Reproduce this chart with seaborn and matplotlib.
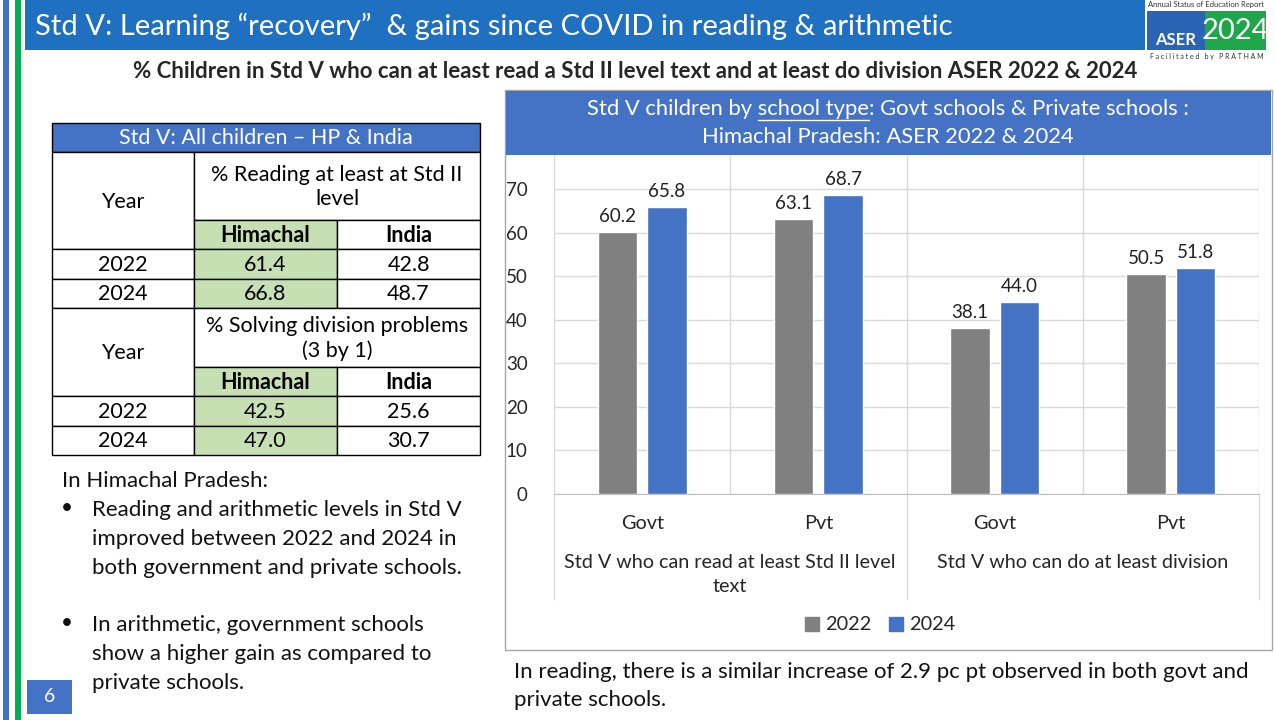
import numpy as np
import pandas as pd
import matplotlib.pyplot as plt
from matplotlib.patches import Rectangle, Patch
import seaborn as sns

# chart data
categories = ['Govt', 'Pvt', 'Govt', 'Pvt']
group_of = [0, 0, 1, 1]
groups = ['Std V who can read at least Std II level\ntext', 'Std V who can do at least division']
years = ['2022', '2024']
vals_2022 = [60.2, 63.1, 38.1, 50.5]
vals_2024 = [65.8, 68.7, 44.0, 51.8]
yticks = [0, 10, 20, 30, 40, 50, 60, 70]

# table data
table_years = ['2022', '2024']
read_hp = ['61.4', '66.8']
read_india = ['42.8', '48.7']
div_hp = ['42.5', '47.0']
div_india = ['25.6', '30.7']

colors = {'2022': '#808080', '2024': '#4472C4'}
BLUE = '#4472C4'
HEAD = '#1F70C1'
GREEN_CELL = '#C6E0B4'

sns.set_style('white')
plt.rcParams['font.family'] = ['Lato', 'DejaVu Sans']

fig = plt.figure(figsize=(12.75, 7.2), dpi=100)
bg = fig.add_axes([0, 0, 1, 1])
bg.set_xlim(0, 1275)
bg.set_ylim(720, 0)
bg.axis('off')

def rect(x0, y0, x1, y1, fc, ec='none', lw=0, z=1):
    bg.add_patch(Rectangle((x0, y0), x1 - x0, y1 - y0, fc=fc, ec=ec, lw=lw, zorder=z))

# side strips + header
rect(3, 0, 9, 720, BLUE)
rect(15, 0, 21, 720, '#00B050')
rect(25, 0, 1145, 50, HEAD)
bg.text(35, 26, 'Std V: Learning \u201crecovery\u201d  & gains since COVID in reading & arithmetic',
        color='white', fontsize=21, va='center', ha='left', zorder=3)

# logo
bg.text(1148, 5, 'Annual Status of Education Report', fontsize=5.5, va='center', ha='left', color='#333')
rect(1147, 11, 1205, 50, '#2B63B5', z=2)
rect(1205, 11, 1266, 50, '#1FA64A', z=2)
bg.text(1176, 40, 'ASER', color='white', fontsize=12, fontweight='bold', ha='center', va='center', zorder=3)
bg.text(1235, 31, '2024', color='white', fontsize=21, ha='center', va='center', zorder=3)
bg.text(1150, 57, 'F a c i l i t a t e d   b y   P R A T H A M', fontsize=5, va='center', ha='left', color='#333')

# subtitle
bg.text(635, 72, '% Children in Std V who can at least read a Std II level text and at least do division ASER 2022 & 2024',
        fontsize=16, fontweight='bold', ha='center', va='center')

# table
def cell(x0, y0, x1, y1, text, fc='white', bold=False, color='black', fs=15.5):
    rect(x0, y0, x1, y1, fc, ec='black', lw=1, z=2)
    bg.text((x0 + x1) / 2, (y0 + y1) / 2 + 1, text, ha='center', va='center', fontsize=fs,
            fontweight='bold' if bold else 'normal', color=color, zorder=3, linespacing=1.3)

c0, c1, c2, c3 = 52, 194, 337, 480
cell(c0, 123, c3, 152, 'Std V: All children \u2013 HP & India', fc=BLUE, color='white')
blocks = [(152, 68, '% Reading at least at Std II\nlevel', read_hp, read_india),
          (308, 59, '% Solving division problems\n(3 by 1)', div_hp, div_india)]
for top, lab_h, label, hp, ind in blocks:
    sub = top + lab_h
    cell(c0, top, c1, sub + 29, 'Year')
    cell(c1, top, c3, sub, label)
    cell(c1, sub, c2, sub + 29, 'Himachal', fc=GREEN_CELL, bold=True)
    cell(c2, sub, c3, sub + 29, 'India', bold=True)
    y = sub + 29
    for yr, a, b in zip(table_years, hp, ind):
        cell(c0, y, c1, y + 29.5, yr)
        cell(c1, y, c2, y + 29.5, a, fc=GREEN_CELL)
        cell(c2, y, c3, y + 29.5, b)
        y += 29.5

# left notes
notes = [(62, 481, 'In Himachal Pradesh:', False),
         (92, 510, 'Reading and arithmetic levels in Std V', True),
         (92, 539, 'improved between 2022 and 2024 in', False),
         (92, 568, 'both government and private schools.', False),
         (92, 625, 'In arithmetic, government schools', True),
         (92, 654, 'show a higher gain as compared to', False),
         (92, 683, 'private schools.', False)]
for x, y, t, bullet in notes:
    bg.text(x, y, t, fontsize=16, va='center', ha='left', color='#111')
    if bullet:
        bg.text(61, y - 2, '\u2022', fontsize=15, va='center', ha='left', color='#111')

# page number
rect(27, 680, 72, 714, BLUE)
bg.text(49.5, 697, '6', color='white', fontsize=14, ha='center', va='center', zorder=3)

# chart frame + title band
rect(505, 90, 1272, 650, 'white', ec='#A6A6A6', lw=1, z=1)
rect(506, 91, 1271, 155, BLUE, z=2)
title1 = 'Std V children by school type: Govt schools & Private schools :'
TFS = 15.8
t1 = bg.text(888, 109, title1, color='white', fontsize=TFS, ha='center', va='center', zorder=3)
bg.text(888, 137, 'Himachal Pradesh: ASER 2022 & 2024', color='white', fontsize=TFS,
        ha='center', va='center', zorder=3)

# bottom note
bg.text(514, 672, 'In reading, there is a similar increase of 2.9 pc pt observed in both govt and',
        fontsize=16, va='center', ha='left', color='#111')
bg.text(514, 700, 'private schools.', fontsize=16, va='center', ha='left', color='#111')

# bar chart
keys = [f'{i}-{c}' for i, c in enumerate(categories)]
df = pd.DataFrame({'key': keys * 2,
                   'year': [years[0]] * 4 + [years[1]] * 4,
                   'value': vals_2022 + vals_2024})

ax = fig.add_axes([554 / 1275, 1 - 494 / 720, (1259 - 554) / 1275, (494 - 155) / 720])
ax.patch.set_alpha(0)
ymax = 77.8
sns.barplot(data=df, x='key', y='value', hue='year', order=keys, hue_order=years,
            palette=colors, saturation=1, width=0.56, gap=0.2, ax=ax, legend=False, zorder=3)
for cont in ax.containers:
    ax.bar_label(cont, fmt='%.1f', padding=5, fontsize=13.5, color='#222')

ax.set_xlim(-0.5, len(keys) - 0.5)
ax.set_ylim(0, ymax)
ax.set_yticks(yticks)
ax.yaxis.grid(True, color='#D9D9D9', lw=1)
ax.vlines(np.arange(-0.5, len(keys)), 0, ymax, color='#D9D9D9', lw=1, zorder=1)
ax.set_xlabel('')
ax.set_ylabel('')
ax.set_xticks(range(len(keys)))
ax.set_xticklabels(categories, fontsize=14.3)
ax.tick_params(axis='x', length=0, pad=15)
ax.tick_params(axis='y', length=0, pad=19, labelsize=13.5)
for s in ['top', 'right', 'left']:
    ax.spines[s].set_visible(False)
ax.spines['bottom'].set_color('#BFBFBF')

# group separators + group labels
bounds = [-0.5, 1.5, len(keys) - 0.5]
ax.vlines(bounds, -24.3, 0, color='#D9D9D9', lw=1, clip_on=False)
for g, label in enumerate(groups):
    pos = [i for i, gg in enumerate(group_of) if gg == g]
    ax.text(np.mean(pos), -0.178, label, transform=ax.get_xaxis_transform(),
            ha='center', va='top', fontsize=14.2, linespacing=1.5)

handles = [Patch(color=colors[y], label=y) for y in years]
ax.legend(handles=handles, loc='center', bbox_to_anchor=(880 / 1275, 1 - 625 / 720),
          bbox_transform=fig.transFigure, ncol=2, frameon=False, fontsize=14.3,
          handlelength=0.7, handleheight=0.7, handletextpad=0.3, columnspacing=0.9)

# underline "school type"
fig.canvas.draw()
r = fig.canvas.get_renderer()
bb = t1.get_window_extent(r)
pre = bg.text(0, 0, 'Std V children by ', fontsize=TFS)
word = bg.text(0, 0, 'school type', fontsize=TFS)
w_pre = pre.get_window_extent(r).width
w_word = word.get_window_extent(r).width
pre.remove()
word.remove()
ux0 = bb.x0 + w_pre
bg.plot([ux0, ux0 + w_word], [120, 120], color='white', lw=1, zorder=4)

fig.savefig('out.png', dpi=100)
